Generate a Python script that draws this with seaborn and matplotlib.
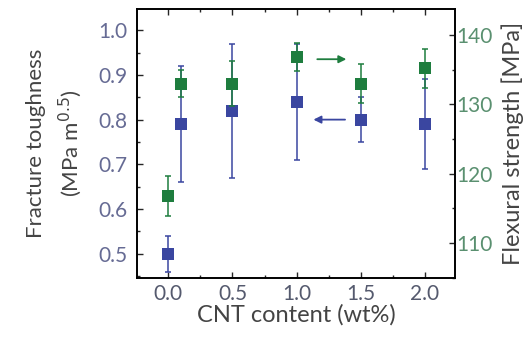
"""
Fracture toughness and flexural strength vs CNT content
"""
import numpy as np
import pandas as pd
import matplotlib
matplotlib.use('Agg')
import matplotlib.pyplot as plt
import seaborn as sns
from matplotlib.ticker import MultipleLocator

# Data
cnt_content = [0.0, 0.1, 0.5, 1.0, 1.5, 2.0]
toughness = [0.50, 0.79, 0.82, 0.84, 0.80, 0.79]          # MPa m^0.5
toughness_err = [0.04, 0.13, 0.15, 0.13, 0.05, 0.10]
strength = [116.8, 133.0, 133.0, 136.8, 133.0, 135.2]     # MPa
strength_err = [2.9, 2.0, 3.2, 2.0, 2.8, 2.8]
x_ticks = [0.0, 0.5, 1.0, 1.5, 2.0]

BLUE = '#3a46a0'
GREEN = '#1e7d3e'

sns.set_style('ticks')
plt.rcParams['font.family'] = ['Lato', 'DejaVu Sans']

df = pd.DataFrame({'cnt': cnt_content, 'kic': toughness, 'kic_err': toughness_err,
                   'sigma': strength, 'sigma_err': strength_err})

fig = plt.figure(figsize=(5.32, 3.37), dpi=100)
ax = fig.add_axes([0.2575, 0.175, 0.5975, 0.798])
ax2 = ax.twinx()

# Left axis: fracture toughness
ax.errorbar(df['cnt'], df['kic'], yerr=df['kic_err'], fmt='none',
            ecolor=BLUE, elinewidth=1.1, capsize=2.5, capthick=1.1)
sns.scatterplot(data=df, x='cnt', y='kic', marker='s', s=70, color=BLUE,
                edgecolor=BLUE, linewidth=0, ax=ax, zorder=3, legend=False)

# Right axis: flexural strength
ax2.errorbar(df['cnt'], df['sigma'], yerr=df['sigma_err'], fmt='none',
             ecolor=GREEN, elinewidth=1.1, capsize=2.5, capthick=1.1)
sns.scatterplot(data=df, x='cnt', y='sigma', marker='s', s=70, color=GREEN,
                edgecolor=GREEN, linewidth=0, ax=ax2, zorder=3, legend=False)

ax.set_xlim(-0.245, 2.235)
ax.set_ylim(0.446, 1.047)
ax2.set_ylim(104.95, 143.75)

ax.set_xticks(x_ticks)
ax.set_xticklabels([f'{v:.1f}' for v in x_ticks])
ax.xaxis.set_minor_locator(MultipleLocator(0.25))
ax.yaxis.set_major_locator(MultipleLocator(0.1))
ax.yaxis.set_minor_locator(MultipleLocator(0.05))
ax2.yaxis.set_major_locator(MultipleLocator(10))
ax2.yaxis.set_minor_locator(MultipleLocator(5))

ax.tick_params(axis='x', which='both', direction='in', top=True, labelsize=15,
               labelcolor='#555a6e', pad=4)
ax.tick_params(axis='y', which='both', direction='in', labelsize=15,
               labelcolor='#666b94', pad=7)
ax.tick_params(which='major', length=4, width=1)
ax.tick_params(which='minor', length=2.5, width=1)
ax2.tick_params(axis='y', which='both', direction='in', labelsize=15,
                labelcolor='#5a9070', pad=1)
ax2.tick_params(which='major', length=4, width=1)
ax2.tick_params(which='minor', length=2.5, width=1)

for a in (ax, ax2):
    for s in a.spines.values():
        s.set_linewidth(1.2)
        s.set_color('black')

ax.set_xlabel('CNT content (wt%)', fontsize=17, color='#444444', labelpad=0)
ax.set_ylabel('Fracture toughness\n(MPa m$^{0.5}$)', fontsize=16,
              color='#444444', labelpad=10, linespacing=1.5)
ax2.set_ylabel('Flexural strength [MPa]', fontsize=17, color='#444444', labelpad=6)

# Arrows indicating which axis each series belongs to
ax.annotate('', xy=(1.41, 0.935), xytext=(1.14, 0.935),
            arrowprops=dict(arrowstyle='-|>', color=GREEN, lw=1.3,
                            mutation_scale=11))
ax.annotate('', xy=(1.11, 0.80), xytext=(1.40, 0.80),
            arrowprops=dict(arrowstyle='-|>', color=BLUE, lw=1.3,
                            mutation_scale=11))

plt.savefig('out.png', dpi=100)
